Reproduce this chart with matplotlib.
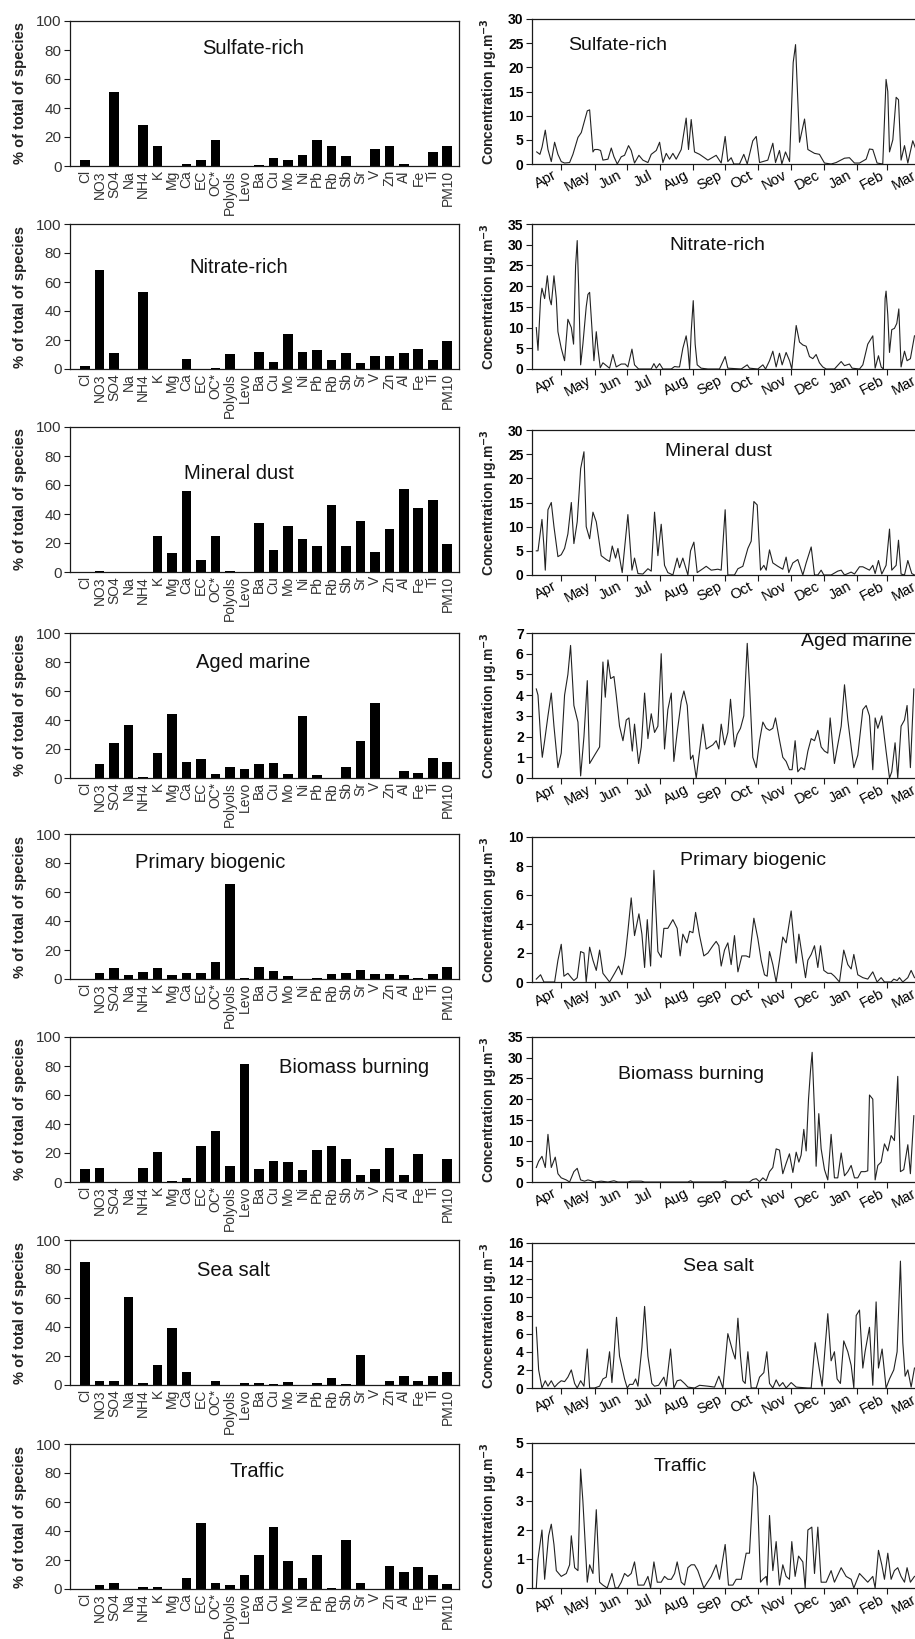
import matplotlib
matplotlib.use('Agg')
import matplotlib.pyplot as plt
import numpy as np

plt.rcParams['font.family'] = ['Liberation Sans', 'DejaVu Sans']

# ---------------- data ----------------
species = ['Cl', 'NO3', 'SO4', 'Na', 'NH4', 'K', 'Mg', 'Ca', 'EC', 'OC*', 'Polyols', 'Levo',
           'Ba', 'Cu', 'Mo', 'Ni', 'Pb', 'Rb', 'Sb', 'Sr', 'V', 'Zn', 'Al', 'Fe', 'Ti', 'PM10']

factor_names = ['Sulfate-rich', 'Nitrate-rich', 'Mineral dust', 'Aged marine',
                'Primary biogenic', 'Biomass burning', 'Sea salt', 'Traffic']

sulfate_bars = [3.9, 0, 50.8, 0, 28, 14, 0, 1.4, 3.9, 17.7, 0, 0, 0.9, 5.3, 3.9, 7.8,
                17.7, 13.8, 6.7, 0, 11.7, 13.8, 1.6, 0, 9.9, 13.8]
nitrate_bars = [2, 68, 11, 0, 53, 0, 0, 7, 0, 1, 10.5, 0, 12, 5, 24, 12,
                13, 6, 11, 4, 9, 9, 11, 13.5, 6.5, 19]
dust_bars = [0, 1, 0, 0, 0, 25, 13, 56, 8, 25, 1, 0, 34, 15, 32, 23,
             18, 46, 18, 35, 14, 30, 57, 44, 50, 19]
marine_bars = [0, 9.6, 23.8, 36.8, 0.5, 17.4, 44.4, 11, 12.8, 2.5, 7.8, 6, 9.6, 10.3, 2.5, 42.6,
               1.8, 0, 7.8, 25.2, 51.5, 0, 4.6, 3.7, 13.7, 11]
biogenic_bars = [0, 4, 7.5, 3, 5, 7.5, 3, 4, 4, 11.5, 65.5, 1, 8, 5.5, 2, 0,
                 0.5, 3.5, 4, 6, 3.5, 3.5, 2.5, 0.5, 3.5, 8]
biomass_bars = [9, 10, 0, 0, 10, 21, 1, 2.5, 25, 35.5, 11, 81.5, 9, 14.5, 13.5, 8,
                22, 24.5, 16, 5, 9, 23.5, 4.5, 19, 0, 16]
seasalt_bars = [84.5, 3, 2.5, 61, 1.5, 13.5, 39.5, 9, 0, 3, 0, 1.5, 1.5, 1, 2, 0,
                1.5, 5, 0.5, 21, 0, 3, 6.5, 3, 6.5, 9]
traffic_bars = [0, 2.7, 4.1, 0, 1.1, 1.1, 0, 7.3, 45.3, 4.1, 2.7, 9.8, 23.3, 42.8, 19, 7.8,
                23.3, 0.7, 33.6, 4.1, 0, 15.6, 11.9, 14.9, 9.8, 3.4]

# time series: (days since 1 April, concentration)
sulfate_ts = [(7, 2.5), (10, 2), (12, 3.5), (15, 7), (17.5, 3), (20.6, 0.5), (23.7, 4.5), (26.8, 2),
              (29.9, 0.5), (33, 0.2), (37.7, 0.3), (40.8, 2), (45.5, 5.5), (48.6, 6.5), (51.7, 9),
              (54.2, 11), (56.4, 11.2), (59.5, 2.5), (61, 3), (64.1, 3), (66.6, 2.8), (68.8, 0.8),
              (73.5, 1), (76.6, 3.3), (79.1, 1.5), (82.2, 0), (85.9, 1.5), (89, 1.8), (92.7, 3.8),
              (95.2, 2.8), (98.3, 0.2), (102.4, 1.8), (106.1, 0.8), (110.8, 0.3), (113.9, 2),
              (118.6, 2.8), (121.7, 4.5), (124.8, 0.3), (127.9, 2.2), (131, 1), (134.1, 2.2),
              (137.2, 1), (141.9, 3), (146.5, 9.5), (148.7, 3), (151.2, 9.2), (154.3, 2.5),
              (159, 2), (166.8, 0.8), (174.5, 1.8), (179.2, 0.2), (182.9, 5.7), (185.4, 0.5),
              (188.5, 1.3), (191, 0), (196.3, 0), (200.3, 2), (203.5, 0), (208.7, 4.8),
              (211.9, 5.7), (215, 0.3), (222.7, 0.8), (227.4, 4.3), (229.9, 0.3), (233.6, 2.8),
              (235.8, 0), (239.2, 2.5), (243, 0.5), (246.4, 21), (248.6, 24.7), (252.3, 4.5),
              (257, 9.3), (260.1, 3), (266.3, 2.2), (270.9, 2), (275.6, 0.2), (281.8, 0),
              (286.5, 0.3), (294.3, 1.2), (298.9, 1.3), (303.6, 0.2), (308.3, 0.2), (314.5, 1),
              (317.6, 3.1), (320.7, 3), (324.7, 0.2), (330, 0), (331.6, 9), (333.1, 17.5),
              (334.7, 15), (336.3, 2.5), (339.4, 5), (342.5, 13.8), (344.7, 13.3), (347.1, 0.8),
              (350.3, 3.8), (353.4, 0.2), (358, 4.8), (361, 3)]
nitrate_ts = [(6.6, 10), (8.2, 4.5), (10.6, 17), (11.9, 19.5), (14.4, 17), (16.9, 22.5), (19, 17),
              (20.6, 15.5), (23.1, 22.5), (25.3, 17), (26.8, 9), (29.9, 5), (33, 2), (36.1, 12),
              (39.3, 10), (41.4, 6), (43.3, 25), (44.8, 31), (46.1, 20), (48, 1), (50.1, 6),
              (53.2, 15), (54.8, 18), (56.4, 18.5), (58.5, 10), (60.4, 2), (62.6, 9), (64.1, 5),
              (66.3, 0.3), (68.8, 1.5), (73.5, 0.5), (75, 0.2), (78.1, 3.5), (81.2, 0.5),
              (85.9, 1.2), (89.6, 1.2), (92.1, 0.5), (95.9, 4.8), (98.3, 1), (102.1, 0),
              (109.2, 0), (113.9, 0), (116.4, 1.3), (118.6, 0.2), (121.7, 1.3), (124.8, 0),
              (132.6, 0), (135.7, 0.6), (138.2, 0.5), (140.3, 0.5), (143.4, 5), (146.5, 8),
              (148.1, 5), (149.7, 0), (151.2, 9), (153.1, 16.5), (154.9, 6), (156.8, 1),
              (160.5, 0.2), (166.8, 0), (177.6, 0), (182.9, 3), (185.4, 0.2), (197.9, 0),
              (203.5, 1), (205.6, 0.2), (213.4, 0), (218.1, 1), (220.6, 0), (224.3, 2),
              (227.4, 4.3), (230.5, 0.5), (233.6, 3.8), (236.1, 1), (239.8, 4), (243, 2),
              (245.1, 0), (249.2, 10.5), (252.3, 6.5), (255.4, 5.8), (258.5, 5.5), (261.6, 3),
              (264.7, 2.5), (267.8, 3.5), (270.9, 1.5), (274, 0.5), (277.2, 0), (284.9, 0),
              (291.2, 1.8), (294.3, 0.8), (298.9, 1.2), (301.4, 0.2), (308.3, 0), (311.4, 1),
              (316, 6), (320.7, 8), (322.9, 0.2), (326, 3.2), (328.5, 0.5), (330.6, 0),
              (332.2, 17), (333.1, 18.8), (334.7, 13), (336.3, 4), (338.4, 9.5), (340.9, 9.8),
              (343.1, 11), (345, 14.5), (347.1, 0.5), (350.3, 4.3), (352.7, 2), (355.8, 2.5),
              (359.6, 8)]
dust_ts = [(6.6, 5), (8.2, 5), (11.9, 11.5), (13.7, 6), (15, 1), (17.5, 13.5), (20.6, 15),
           (23.1, 10), (26.8, 3.8), (29.9, 4.2), (33, 5.5), (36.1, 8.5), (39.3, 15), (41.7, 6.5),
           (44.8, 11), (48, 22), (51.1, 25.5), (53.2, 10), (56.4, 7.5), (59.5, 13), (62.6, 11),
           (67.2, 4), (71.9, 3.2), (75, 2.8), (77.5, 6), (80.6, 3.5), (82.8, 5.5), (86.8, 0.5),
           (92.1, 12.5), (95.9, 1), (98.3, 3.5), (101.5, 0.3), (106.1, 0.2), (110.8, 1.3),
           (113.9, 0.8), (117, 13), (120.1, 4), (123.2, 10.5), (126.3, 2), (129.4, 0.5),
           (134.1, 0), (138.1, 3.5), (140.3, 1.5), (143.4, 3.5), (148.1, 0), (150.6, 5),
           (153.7, 6.8), (156.8, 0.5), (162.1, 1.3), (165.2, 1.8), (169.9, 1), (176.1, 1.2),
           (179.2, 1), (182.9, 13.5), (185.4, 0), (191.6, 0), (194.8, 1.3), (199.4, 1.8),
           (204.1, 5.5), (207.2, 7), (209.7, 15.2), (212.8, 14.5), (215.9, 1), (219, 2),
           (221.2, 1), (224.3, 5.2), (227.4, 2.5), (232.1, 1.8), (236.7, 1.2), (239.8, 3.7),
           (242.3, 0.5), (246.1, 2.5), (250.7, 3.2), (255.4, 0), (258.5, 2.5), (263.2, 5.8),
           (266.3, 0), (269.4, 0), (272.5, 1), (275, 0), (281.8, 0), (288, 0.8), (291.2, 1),
           (294.3, 0), (300.5, 0.6), (303.6, 0.2), (308.3, 1.7), (311.4, 1.7), (317.6, 1),
           (320.7, 2), (322.9, 0.3), (326, 3), (329.1, 0.2), (333.1, 2), (336.3, 9.5),
           (338.4, 1), (342.5, 2), (344.7, 7.2), (347.1, 0.2), (350.3, 0), (353.4, 3),
           (357.1, 0.3), (359.6, 0)]
marine_ts = [(6.6, 4.3), (8.2, 4), (10.6, 2), (12.2, 1), (14.4, 1.8), (17.5, 3), (20.6, 4.1),
             (23.1, 2.5), (26.8, 0.5), (29.9, 1.2), (33, 4), (36.1, 5), (38.6, 6.4), (41.7, 3.5),
             (45.5, 2.7), (48, 0.1), (51.1, 2), (54.2, 4.7), (56.4, 0.7), (61, 1.1), (65.7, 1.5),
             (68.8, 5.6), (71, 3.9), (73.5, 5.7), (76, 4.8), (79.1, 4.9), (81.2, 4), (84.3, 2.5),
             (87.5, 1.8), (90.6, 2.8), (93.1, 2.9), (96.2, 1.3), (98.3, 2.6), (102.1, 0.7),
             (104.6, 1.5), (107.7, 4.1), (110.8, 1.9), (113.9, 3.1), (117, 2.2), (120.1, 2.5),
             (123.2, 6), (126.3, 1.4), (129.4, 3.3), (132.6, 4.1), (135, 0.8), (138.1, 2.2),
             (141.9, 3.7), (144.4, 4.2), (147.5, 3.5), (150.6, 0.9), (152.8, 1.1), (155.9, 0),
             (159, 1.3), (162.1, 2.6), (165.2, 1.4), (171.4, 1.6), (174.5, 1.8), (177, 1.4),
             (179.2, 2.6), (182.3, 1.6), (185.4, 2.2), (187.9, 3.8), (191.6, 1.5), (194.1, 2.1),
             (197.2, 2.4), (200.3, 3), (203.5, 6.5), (205.6, 4.5), (208.7, 1), (211.9, 0.5),
             (215, 1.8), (218.1, 2.7), (221.2, 2.4), (224.3, 2.3), (227.4, 2.4), (229.9, 2.9),
             (233, 2), (236.7, 1), (239.8, 0.8), (242.9, 0.4), (245.4, 0.4), (248.2, 1.8),
             (250.7, 0.3), (253.8, 0.5), (257, 0.4), (260.1, 1.3), (263.2, 1.9), (266.3, 1.8),
             (269.4, 2.3), (272.5, 1.5), (275.6, 1.3), (278.7, 1.2), (280.9, 2.9), (283.4, 1.5),
             (284.9, 0.7), (288, 1.6), (291.2, 2.5), (294.3, 4.5), (297.4, 2.8), (300.5, 1.5),
             (303, 0.5), (306.7, 1.1), (311.4, 3.3), (314.5, 3.5), (317.6, 3), (320.7, 0.4),
             (322.9, 2.9), (325.4, 2.4), (329.1, 3), (333.1, 1.3), (336.3, 0), (338.4, 0.3),
             (341.5, 1.7), (344, 0), (347.1, 2.5), (350.3, 2.8), (352.7, 3.5), (355.8, 0.5),
             (359, 4.3)]
biogenic_ts = [(6.6, 0.2), (10.6, 0.5), (13.7, 0), (23.7, 0), (26.8, 1.5), (29.9, 2.6), (32.4, 0.4),
               (36.1, 0.6), (39.3, 0.3), (41.7, 0.1), (44.8, 0.3), (48, 2.1), (51.1, 2), (53.2, 0),
               (56.4, 2.4), (59.5, 1.5), (62.6, 0.8), (65.7, 2.2), (68.8, 0.6), (75, 0), (79.7, 0.6),
               (83.4, 1.1), (86.5, 0.5), (89.6, 1.8), (92.1, 3.5), (95.2, 5.8), (98.3, 3.2),
               (102.4, 4.7), (105.2, 3.3), (107.7, 1), (110.2, 4.3), (113.3, 1.1), (116.4, 7.7),
               (120.1, 2.1), (123.2, 1.7), (125.7, 3.7), (129.4, 3.7), (134.1, 4.3), (138.1, 3.7),
               (140.9, 1.8), (143.4, 3.3), (147.2, 2.7), (149.7, 3.5), (152.8, 3.4), (155.3, 4.8),
               (159, 3.2), (163, 1.8), (166.8, 2), (171.4, 2.5), (174.5, 2.8), (177, 2.5),
               (179.2, 1.1), (182.3, 2.2), (185.4, 2.7), (188.5, 1.2), (191.6, 3.2), (194.8, 0.7),
               (198.5, 1.8), (202.5, 1.8), (205.6, 1.7), (209.7, 4.4), (213.4, 3), (216.5, 1.5),
               (219.6, 0.5), (222.1, 0.4), (224.3, 2.1), (227.4, 1.2), (230.5, 0), (233.6, 1.5),
               (236.7, 3.1), (239.8, 2.7), (244.5, 4.9), (247.6, 2.5), (249.2, 1.3), (251.7, 3.3),
               (255.4, 1.5), (257.9, 0.3), (260.1, 1.5), (263.2, 1.9), (266.3, 2.5), (269.4, 1),
               (271.9, 2.5), (275, 0.8), (278.7, 0.6), (281.8, 0.6), (284.9, 0.4), (289.6, 0),
               (293.6, 2.2), (297.4, 1.2), (300.5, 0.9), (303, 1.9), (306.7, 0.5), (311.4, 0.3),
               (316, 0.2), (320.7, 0.7), (324.7, 0), (328.5, 0.3), (331.6, 0), (337.8, 0),
               (340.3, 0.2), (343.4, 0.1), (345.6, 0.3), (348.7, 0), (353.4, 0.3), (356.5, 0.8),
               (359.6, 0.3)]
biomass_ts = [(6.6, 3.5), (8.8, 5), (11.9, 6.2), (15, 3.5), (17.5, 11.5), (20.6, 3.5), (24.3, 6),
              (26.8, 2), (29.9, 1), (34.6, 0.5), (37.7, 0), (41.7, 2.5), (44.8, 3.3), (48, 0.5),
              (51.7, 0.2), (54.8, 0.5), (57.9, 0.3), (61, 0), (64.1, 0.1), (67.2, 0.2), (73.5, 0),
              (79.1, 0.3), (82.8, 0), (92.1, 0), (95.2, 0.2), (104.6, 0.2), (107.7, 0), (148.1, 0),
              (150.6, 0.3), (152.8, 0), (179.2, 0), (182.9, 0.3), (185.4, 0), (205.6, 0),
              (208.7, 0.6), (211.9, 0.8), (215, 0.1), (218.1, 1), (221.2, 0.3), (224.3, 2.5),
              (227.4, 3.5), (230.5, 8), (233.6, 7.7), (236.7, 2), (239.8, 4.5), (242.9, 6.8),
              (246.1, 2.3), (249.2, 7.2), (251.7, 4.8), (253.8, 6.5), (256.3, 12.7), (258.5, 7.5),
              (260.7, 20), (262.6, 27), (264.1, 31.3), (266.3, 17), (267.8, 3.8), (270.3, 16.5),
              (272.5, 8), (275.6, 3), (278.7, 0.5), (281.8, 11.5), (284.9, 1), (288, 1),
              (291.2, 7), (294.3, 1.5), (297.4, 2.5), (300.5, 4), (303.6, 1), (306.7, 1),
              (309.8, 2.5), (313.5, 2.5), (316, 2.7), (317.6, 21), (320.7, 20), (322.9, 0.5),
              (325.4, 4), (328.5, 4.8), (331.6, 9.2), (334.7, 7.5), (337.8, 11.2), (340.9, 10),
              (344, 25.5), (346.5, 2.5), (349.6, 3), (353.4, 9), (355.8, 2), (359, 16)]
seasalt_ts = [(6.6, 6.7), (8.8, 2), (11.9, 0), (15, 0.8), (17.5, 0.2), (20.6, 0.8), (23.7, 0.1),
              (26.8, 0.5), (29.9, 0.8), (33, 0.7), (36.1, 1.2), (39.3, 2), (42.4, 0.5), (44.8, 0),
              (48, 0.8), (51.1, 0.2), (54.2, 4.3), (56.4, 0), (61, 0), (65.7, 0.2), (68.8, 1),
              (71.9, 1.2), (75, 4), (77.2, 0.6), (79.1, 3.5), (81.5, 7.8), (84.3, 3.5), (89, 1),
              (91.5, 0), (93.7, 0.4), (96.8, 0.4), (99.3, 1), (101.5, 0.2), (105.2, 4.5),
              (107.7, 9), (110.8, 3.5), (114.5, 0.5), (117, 0.2), (120.7, 0.3), (125.7, 1.2),
              (127.9, 0.2), (131.9, 4.3), (135, 0), (138.1, 0.8), (141.3, 0.9), (145, 0.5),
              (148.1, 0.1), (154.3, 0), (159, 0.3), (166.8, 0.2), (173, 0.1), (177, 1.3),
              (180.8, 0), (185.4, 6), (190.1, 4), (192.3, 3.2), (194.8, 7.7), (197.2, 3.5),
              (199.4, 0.8), (201.6, 0.5), (204.1, 4), (207.2, 0), (211.9, 0), (215, 1.2),
              (219, 1.7), (221.8, 4), (224.3, 0.5), (227.4, 0), (230.5, 0.9), (233.6, 0.2),
              (236.7, 0.6), (239.8, 0), (244.5, 0.6), (249.2, 0.1), (260.1, 0), (263.2, 0),
              (266.9, 5), (270.9, 2), (273.4, 0.2), (276.2, 4.5), (278.7, 8.2), (281.8, 3),
              (284.9, 4), (287.4, 1), (290.5, 0.5), (293.6, 5.2), (297.4, 4), (300.5, 2.5),
              (303, 0), (305.2, 8), (308.3, 8.6), (311.4, 2.2), (313.5, 4), (317.6, 6.7),
              (320.7, 0.3), (323.8, 9.5), (326, 2.2), (329.4, 4.3), (333.1, 0), (336.3, 1),
              (340.3, 2), (343.4, 4), (346.5, 14), (348.7, 5), (350.9, 1.3), (353.4, 2),
              (356.5, 0.1), (359.6, 2.2)]
traffic_ts = [(6.6, 0), (8.2, 1), (11.9, 2), (14.4, 0.3), (18.1, 1.8), (20.6, 2.2), (23.1, 1.5),
              (25.3, 0.6), (29.9, 0.4), (34.6, 0.5), (37.7, 0.8), (39.3, 1.8), (42.4, 0.7),
              (45.5, 0.6), (48, 4.1), (50.1, 3), (54.2, 0.2), (56.4, 0.8), (59.5, 0.5), (62.6, 2.7),
              (65.7, 0.2), (68.8, 0.1), (72.8, 0), (77.2, 0.5), (80.3, 0), (82.8, 0), (85.9, 0.2),
              (89, 0.5), (92.1, 0.4), (95.2, 0.5), (98.3, 0.9), (101.5, 0.1), (107, 0.1),
              (110.8, 0.4), (113.3, 0), (116.4, 0.9), (119.5, 0.2), (123.2, 0.2), (126.3, 0.4),
              (129.4, 0.3), (132.6, 0.3), (135.7, 0.5), (138.1, 0.9), (141.9, 0.2), (145, 0.1),
              (148.1, 0.7), (151.2, 0.8), (154.3, 0.8), (157.4, 0.6), (163, 0), (169.9, 0.4),
              (174.5, 0.8), (177.6, 0.3), (182.9, 1.5), (186, 0.1), (190.1, 0.1), (193.2, 0.3),
              (197.9, 0.3), (202.5, 1.2), (205.6, 1.2), (209.7, 4), (212.8, 3.5), (215.9, 0.2),
              (218.1, 0.3), (221.2, 0.4), (222.1, 0.1), (224.3, 2.5), (227.4, 0.6), (230.5, 1.6),
              (233.6, 0.1), (236.7, 0.8), (239.8, 0.4), (242.9, 0.3), (245.1, 1.6), (248.2, 0.4),
              (251.4, 1.1), (255.4, 0.9), (257.6, 0), (260.1, 2), (263.8, 2.1), (266.3, 0.5),
              (269.4, 2.1), (272.5, 0.2), (277.2, 0.2), (281.8, 0.6), (284.9, 0.2), (291.2, 0.7),
              (295.8, 0.4), (300.5, 0.3), (303, 0), (308.3, 0.5), (316, 0.2), (320.7, 0.4),
              (322.9, 0), (326, 1.3), (329.1, 0.8), (331.6, 0.3), (334.7, 1.2), (337.8, 0.3),
              (340.9, 0.6), (344, 0.7), (347.1, 0.4), (350.3, 0.2), (352.7, 0.7), (355.8, 0.2),
              (359.6, 0.4)]

months = ['Apr', 'May', 'Jun', 'Jul', 'Aug', 'Sep', 'Oct', 'Nov', 'Dec', 'Jan', 'Feb', 'Mar']
month_starts = [0, 30, 61, 91, 122, 153, 183, 214, 244, 275, 306, 334, 365]

bar_sets = [sulfate_bars, nitrate_bars, dust_bars, marine_bars,
            biogenic_bars, biomass_bars, seasalt_bars, traffic_bars]
ts_sets = [sulfate_ts, nitrate_ts, dust_ts, marine_ts,
           biogenic_ts, biomass_ts, seasalt_ts, traffic_ts]
ts_ymax = [30, 35, 30, 7, 10, 35, 16, 5]
ts_ystep = [5, 5, 5, 1, 2, 5, 2, 1]

# ---------------- layout (pixels of a 915x1639 canvas) ----------------
W, H = 915, 1639
left_tops = [21, 224, 427, 633, 834, 1037, 1240, 1444]
right_tops = [19, 224, 430, 633, 837, 1037, 1243, 1443]
ax_h = 145
left_x, left_w = 70, 389
right_x, right_w = 532, 389

left_title_pos = [(0.47, 0.81), (0.434, 0.70), (0.434, 0.68), (0.47, 0.80),
                  (0.36, 0.80), (0.73, 0.79), (0.42, 0.79), (0.48, 0.81)]
right_title_pos = [(0.22, 0.82), (0.476, 0.855), (0.478, 0.855), (0.835, 0.94),
                   (0.568, 0.84), (0.41, 0.74), (0.478, 0.835), (0.38, 0.84)]


def rect(x, top, w, h):
    return [x / W, 1 - (top + h) / H, w / W, h / H]


fig = plt.figure(figsize=(W / 100, H / 100), dpi=100)
ink = '#1a1a1a'

for i in range(8):
    # ---- left: bar profile ----
    ax = fig.add_axes(rect(left_x, left_tops[i], left_w, ax_h))
    xpos = np.arange(len(species))
    ax.bar(xpos, bar_sets[i], width=0.68, color='black', edgecolor='black', linewidth=0)
    ax.set_xlim(-1.04, 25.8)
    ax.set_ylim(0, 100)
    ax.set_yticks(range(0, 101, 20))
    ax.set_xticks(xpos)
    ax.set_xticklabels(species, rotation=90, fontsize=10, color='#333333')
    ax.tick_params(axis='x', length=0, pad=3)
    ax.tick_params(axis='y', direction='out', length=4, width=0.8, labelsize=11,
                   labelcolor='#333333', color=ink, pad=2)
    for sp in ax.spines.values():
        sp.set_linewidth(0.9)
        sp.set_color(ink)
    ax.set_ylabel('% of total of species', fontsize=10.5, fontweight='bold', color='#222222')
    ax.yaxis.set_label_coords(-0.11, 0.5)
    tx, ty = left_title_pos[i]
    ax.text(tx, ty, factor_names[i], transform=ax.transAxes, ha='center', va='center',
            fontsize=14.5, color='#111111')

    # ---- right: time series ----
    axr = fig.add_axes(rect(right_x, right_tops[i], right_w, ax_h))
    days = [p[0] for p in ts_sets[i]]
    vals = [p[1] for p in ts_sets[i]]
    axr.plot(days, vals, color='#222222', linewidth=0.8)
    axr.set_xlim(2.6, 365.7)
    axr.set_ylim(0, ts_ymax[i])
    axr.set_yticks(np.arange(0, ts_ymax[i] + 0.01, ts_ystep[i]))
    axr.set_yticklabels([f'{int(v)}' for v in np.arange(0, ts_ymax[i] + 0.01, ts_ystep[i])],
                        fontweight='bold', fontsize=10)
    axr.set_xticks(month_starts[1:])
    axr.set_xticklabels([])
    mids = [(month_starts[k] + month_starts[k + 1]) / 2 for k in range(12)]
    axr.set_xticks(mids, minor=True)
    axr.set_xticklabels(months, minor=True, rotation=28, fontsize=10.5, ha='center')
    axr.tick_params(axis='x', which='major', direction='out', length=4, width=0.8, color=ink)
    axr.tick_params(axis='x', which='minor', length=0, pad=3)
    axr.tick_params(axis='y', direction='out', length=4, width=0.8, color=ink, pad=2)
    for sp in axr.spines.values():
        sp.set_linewidth(0.9)
        sp.set_color(ink)
    axr.set_ylabel(r'Concentration µg.m$^{\mathbf{-3}}$', fontsize=10, fontweight='bold',
                   color='#222222')
    axr.yaxis.set_label_coords(-0.082, 0.5)
    tx, ty = right_title_pos[i]
    axr.text(tx, ty, factor_names[i], transform=axr.transAxes, ha='center', va='center',
             fontsize=14, color='#111111')

fig.savefig('out.png', dpi=100)
